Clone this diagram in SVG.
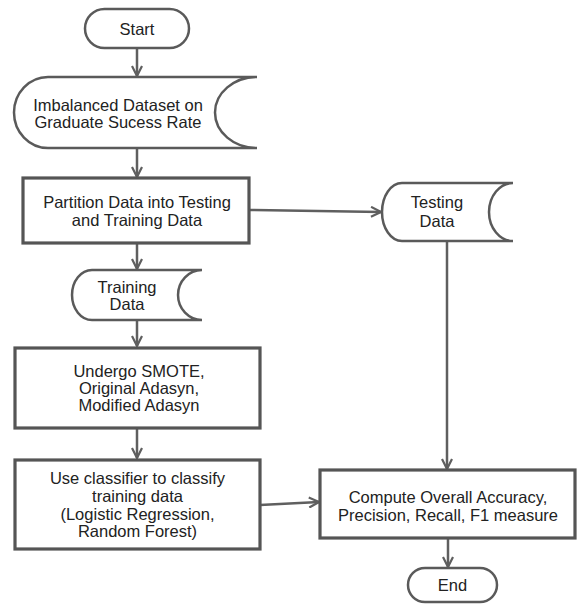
<svg xmlns="http://www.w3.org/2000/svg" width="577" height="604" viewBox="0 0 577 604">
<style>
.s{fill:#fff;stroke:#5a5a5a;stroke-width:2.5}
.b{fill:#fff;stroke:#555;stroke-width:3.2}
.t{font-family:"Liberation Sans",Arial,sans-serif;font-size:16.5px;fill:#222;text-anchor:middle;dominant-baseline:central}
.c{fill:none;stroke:#5f5f5f;stroke-width:2.5}
.h{fill:none;stroke:#5f5f5f;stroke-width:2.5;stroke-linejoin:miter}
</style>
<defs>
<marker id="a" viewBox="0 0 12 12" refX="11" refY="6" markerWidth="12" markerHeight="12" markerUnits="userSpaceOnUse" orient="auto">
<path d="M1 1 L11 6 L1 11" fill="none" stroke="#5f5f5f" stroke-width="2.2"/>
</marker>
</defs>
<rect width="577" height="604" fill="#fff"/>
<g id="connectors">
<line class="c" x1="137" y1="48" x2="137" y2="76" marker-end="url(#a)"/>
<line class="c" x1="137" y1="148" x2="137" y2="177" marker-end="url(#a)"/>
<line class="c" x1="137" y1="243" x2="137" y2="269" marker-end="url(#a)"/>
<line class="c" x1="249" y1="210" x2="381" y2="212" marker-end="url(#a)"/>
<line class="c" x1="137" y1="320" x2="137" y2="346" marker-end="url(#a)"/>
<line class="c" x1="137" y1="428" x2="137" y2="458" marker-end="url(#a)"/>
<line class="c" x1="260" y1="505" x2="319" y2="502" marker-end="url(#a)"/>
<line class="c" x1="447" y1="241" x2="447" y2="469" marker-end="url(#a)"/>
<line class="c" x1="448" y1="538" x2="448" y2="567" marker-end="url(#a)"/>
</g>
<g id="start">
<rect class="s" x="85" y="9" width="104" height="39" rx="19.5"/>
<text class="t" x="137" y="28.5">Start</text>
</g>
<g id="dataset">
<path class="s" d="M257 77 L48 77 A34 35.5 0 0 0 48 148 L257 148 A42 35.5 0 0 1 257 77 Z"/>
<text class="t" x="118" y="105">Imbalanced Dataset on</text>
<text class="t" x="118" y="122">Graduate Sucess Rate</text>
</g>
<g id="partition">
<rect class="b" x="23" y="178" width="226" height="65"/>
<text class="t" x="137" y="202">Partition Data into Testing</text>
<text class="t" x="137" y="220">and Training Data</text>
</g>
<g id="training">
<path class="s" d="M202 270 L92 270 A20 25 0 0 0 92 320 L202 320 A24 25 0 0 1 202 270 Z"/>
<text class="t" x="127" y="287">Training</text>
<text class="t" x="127" y="304">Data</text>
</g>
<g id="testing">
<path class="s" d="M513 183 L402 183 A20 29 0 0 0 402 241 L513 241 A24 29 0 0 1 513 183 Z"/>
<text class="t" x="437" y="202">Testing</text>
<text class="t" x="437" y="221">Data</text>
</g>
<g id="undergo">
<rect class="b" x="15" y="348" width="245" height="80"/>
<text class="t" x="139" y="371">Undergo SMOTE,</text>
<text class="t" x="139" y="388">Original Adasyn,</text>
<text class="t" x="139" y="405">Modified Adasyn</text>
</g>
<g id="classify">
<rect class="b" x="15" y="460" width="245" height="89"/>
<text class="t" x="137.5" y="478">Use classifier to classify</text>
<text class="t" x="137.5" y="495.5">training data</text>
<text class="t" x="137.5" y="513.5">(Logistic Regression,</text>
<text class="t" x="137.5" y="531">Random Forest)</text>
</g>
<g id="compute">
<rect class="b" x="320" y="470" width="255" height="68"/>
<text class="t" x="448" y="497">Compute Overall Accuracy,</text>
<text class="t" x="448" y="515">Precision, Recall, F1 measure</text>
</g>
<g id="end">
<rect class="s" x="408" y="568" width="89" height="34" rx="17"/>
<text class="t" x="452.5" y="585">End</text>
</g>
</svg>
